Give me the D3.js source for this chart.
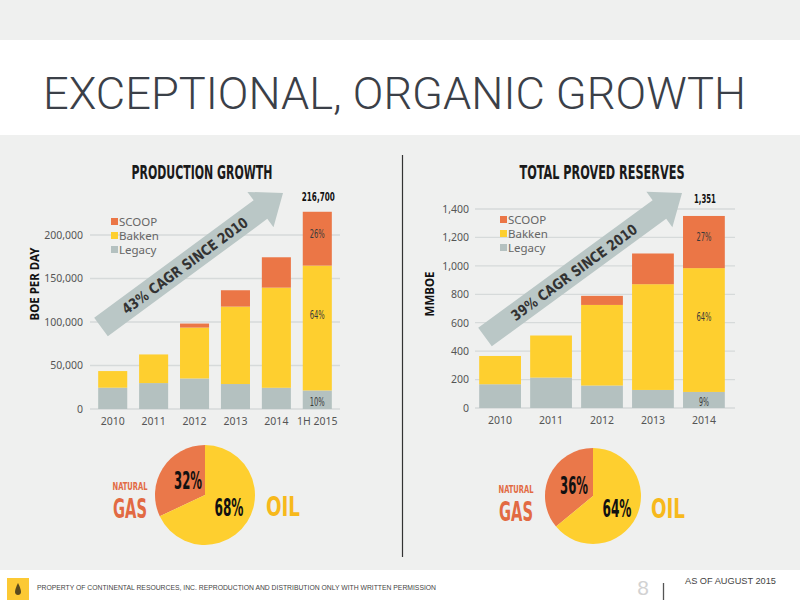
<!DOCTYPE html>
<html><head><meta charset="utf-8">
<script src="https://cdn.jsdelivr.net/npm/d3@7/dist/d3.min.js"></script>
<style>
html,body{margin:0;padding:0;background:#fff;}
svg{display:block;}
</style></head>
<body>
<svg id="c" width="800" height="600"></svg>
<script>
// ---- data ----
const prodYears = ["2010","2011","2012","2013","2014","1H 2015"];
const prodLegacy = [24500, 29800, 35100, 28700, 24400, 21300];
const prodBakken = [19100, 32900, 58500, 89000, 115100, 143500];
const prodScoop  = [0, 0, 4600, 18800, 34900, 61900];
const prodTicks = [0, 50000, 100000, 150000, 200000];
const prodShares = ["10%", "64%", "26%"];
const prodTotalLabel = "216,700";

const resYears = ["2010","2011","2012","2013","2014"];
const resLegacy = [167, 214, 158, 127, 113];
const resBakken = [199, 296, 567, 744, 871];
const resScoop  = [0, 0, 64, 216, 367];
const resTicks = [0, 200, 400, 600, 800, 1000, 1200, 1400];
const resShares = ["9%", "64%", "27%"];
const resTotalLabel = "1,351";

const seriesNames = ["Legacy", "Bakken", "SCOOP"];
const prodMix = [{k:"gas", v:32}, {k:"oil", v:68}];
const resMix  = [{k:"gas", v:36}, {k:"oil", v:64}];

// ---- styles ----
const C = {legacy:"#b4c1c0", bakken:"#fecf2f", scoop:"#eb7646", arrow:"#bac7c6",
           bg:"#eff0ef", grid:"#d6dada", gas:"#e26a43", oil:"#f7b91c", pieGas:"#ea784a", pieOil:"#fecf2f"};
const colors = [C.legacy, C.bakken, C.scoop];
const NARROW = "'Liberation Sans Narrow','DejaVu Sans Condensed','Arial Narrow',sans-serif";
const SANS = "'Noto Sans','Open Sans',sans-serif";

const svg = d3.select("#c");

// background bands
svg.append("rect").attr("x",0).attr("y",0).attr("width",800).attr("height",600).attr("fill","#fff");
svg.append("rect").attr("x",0).attr("y",0).attr("width",800).attr("height",40).attr("fill",C.bg);
svg.append("rect").attr("x",0).attr("y",135).attr("width",800).attr("height",435).attr("fill",C.bg);

// main title
svg.append("text").attr("x",43).attr("y",109)
  .attr("font-family","Roboto, sans-serif").attr("font-weight",300)
  .attr("font-size",44).attr("fill","#3b4048")
  .attr("textLength",703).attr("lengthAdjust","spacingAndGlyphs")
  .text("EXCEPTIONAL, ORGANIC GROWTH");

// divider
svg.append("line").attr("x1",402.5).attr("x2",402.5).attr("y1",155).attr("y2",557)
  .attr("stroke","#333").attr("stroke-width",1.2);

function stackedChart(cfg){
  const g = svg.append("g");
  const x = d3.scaleBand().domain(cfg.years).range(cfg.xr).paddingInner(cfg.pin).paddingOuter(0.2);
  const y = d3.scaleLinear().domain(cfg.yd).range(cfg.yr);
  // grid
  g.selectAll(".grid").data(cfg.ticks).join("line")
    .attr("x1",cfg.gx[0]).attr("x2",cfg.gx[1])
    .attr("y1",d=>y(d)).attr("y2",d=>y(d))
    .attr("stroke",C.grid).attr("stroke-width",1.3);
  // y axis labels
  const ax = g.append("g").attr("transform",`translate(${cfg.labelX},0)`)
    .call(d3.axisLeft(y).tickValues(cfg.ticks).tickSize(0).tickPadding(0).tickFormat(d3.format(",")));
  ax.select(".domain").remove();
  ax.selectAll("text").attr("font-family",SANS).attr("font-size",10.5).attr("fill","#555");
  // x axis
  const xa = g.append("g").attr("transform",`translate(0,${cfg.yr[0]})`)
    .call(d3.axisBottom(x).tickSize(0).tickPadding(9));
  xa.select(".domain").remove();
  xa.selectAll("text").attr("font-family",SANS).attr("font-size",10.5).attr("fill","#555");

  // arrow
  const a = cfg.arrow;
  const dx = a.x2-a.x1, dy = a.y2-a.y1, L = Math.hypot(dx,dy);
  const ang = Math.atan2(dy,dx)*180/Math.PI;
  const sw = 11.5, hw = 22, hl = 28;
  const ag = g.append("g").attr("transform",`translate(${a.x1},${a.y1}) rotate(${ang})`);
  ag.append("path").attr("fill",C.arrow)
    .attr("d",`M0,${-sw} L${L-hl},${-sw} L${L-hl},${-hw} L${L},0 L${L-hl},${hw} L${L-hl},${sw} L0,${sw} Z`);
  ag.append("text").attr("x",a.tx).attr("y",5.5).attr("text-anchor","middle")
    .attr("font-family","'DejaVu Sans',sans-serif").attr("font-weight","bold").attr("font-size",14.5)
    .attr("fill","#333").attr("textLength",a.tl).attr("lengthAdjust","spacingAndGlyphs")
    .text(a.text);

  // stacked bars
  const rows = cfg.years.map((yr,i)=>({year:yr, Legacy:cfg.s[0][i], Bakken:cfg.s[1][i], SCOOP:cfg.s[2][i]}));
  const stack = d3.stack().keys(seriesNames)(rows);
  g.selectAll(".ser").data(stack).join("g").attr("fill",(d,i)=>colors[i])
    .selectAll("rect").data(d=>d.filter(p=>p[1]-p[0]>0)).join("rect")
    .attr("x",d=>x(d.data.year)).attr("width",x.bandwidth())
    .attr("y",d=>y(d[1])).attr("height",d=>y(d[0])-y(d[1]));

  // share labels on last bar
  const last = cfg.years.length-1;
  const offs = [1, -14, -6];
  stack.forEach((ser,i)=>{
    const p = ser[last];
    const s = cfg.shares[i];
    g.append("text").attr("x",x(cfg.years[last])+x.bandwidth()/2)
      .attr("y",(y(p[0])+y(p[1]))/2 + offs[i] + 5)
      .attr("text-anchor","middle").attr("font-family",NARROW).attr("font-size",12)
      .attr("fill","#3a3a3a").attr("textLength",s.length*5).attr("lengthAdjust","spacingAndGlyphs")
      .text(s);
  });
  // total
  g.append("text").attr("x",x(cfg.years[last])+x.bandwidth()/2+1).attr("y",cfg.totalY)
    .attr("text-anchor","middle").attr("font-family",NARROW).attr("font-weight","bold")
    .attr("font-size",13).attr("fill","#111")
    .attr("textLength",cfg.totalW).attr("lengthAdjust","spacingAndGlyphs").text(cfg.total);

  // title
  g.append("text").attr("x",cfg.titleX).attr("y",179).attr("text-anchor","middle")
    .attr("font-family",NARROW).attr("font-weight","bold").attr("font-size",19).attr("fill","#1a1a1a")
    .attr("textLength",cfg.titleW).attr("lengthAdjust","spacingAndGlyphs").text(cfg.title);
  // y title
  g.append("text").attr("transform",`translate(${cfg.ytX},${cfg.ytY}) rotate(-90)`)
    .attr("text-anchor","middle").attr("font-family",SANS).attr("font-weight","bold")
    .attr("font-size",11.5).attr("fill","#111").text(cfg.ytitle);

  // legend
  const lg = g.append("g").attr("transform",`translate(${cfg.leg[0]},${cfg.leg[1]})`);
  ["SCOOP","Bakken","Legacy"].forEach((n,i)=>{
    lg.append("rect").attr("x",0).attr("y",i*14-4).attr("width",7).attr("height",7)
      .attr("fill",colors[seriesNames.indexOf(n)]);
    lg.append("text").attr("x",8).attr("y",i*14+4).attr("font-family",SANS)
      .attr("font-size",11.5).attr("fill","#666").text(n);
  });
}

stackedChart({years:prodYears, s:[prodLegacy,prodBakken,prodScoop], ticks:prodTicks,
  xr:[90,340], pin:0.29, yd:[0,200000], yr:[409,235], gx:[90,340], labelX:83,
  shares:prodShares, total:prodTotalLabel, totalY:201, totalW:33, title:"PRODUCTION GROWTH", titleX:202, titleW:141,
  ytitle:"BOE PER DAY", ytX:39, ytY:284, leg:[111,222],
  arrow:{x1:101,y1:327,x2:283,y2:193,tx:104,tl:152,text:"43% CAGR SINCE 2010"}});

stackedChart({years:resYears, s:[resLegacy,resBakken,resScoop], ticks:resTicks,
  xr:[469,735], pin:0.18, yd:[0,1400], yr:[408,209], gx:[475,735], labelX:469,
  shares:resShares, total:resTotalLabel, totalY:203, totalW:22, title:"TOTAL PROVED RESERVES", titleX:602, titleW:165,
  ytitle:"MMBOE", ytX:434, ytY:294, leg:[500,220],
  arrow:{x1:485,y1:337,x2:682,y2:193,tx:110,tl:152,text:"39% CAGR SINCE 2010"}});

// pies
function pie(cfg){
  const g = svg.append("g").attr("transform",`translate(${cfg.cx},${cfg.cy})`);
  const arcs = d3.pie().value(d=>d.v).sort(null).startAngle(0).endAngle(-2*Math.PI)(cfg.data);
  const arc = d3.arc().innerRadius(0).outerRadius(cfg.r);
  g.selectAll("path").data(arcs).join("path").attr("d",arc)
    .attr("fill",d=>d.data.k==="gas"?C.pieGas:C.pieOil);
  const t = (x,y,s,size,fill,w)=>{
    const e = g.append("text").attr("x",x).attr("y",y).attr("text-anchor","middle")
      .attr("font-family",NARROW).attr("font-weight","bold").attr("font-size",size).attr("fill",fill)
      .text(s);
    if(w) e.attr("textLength",w).attr("lengthAdjust","spacingAndGlyphs");
  };
  t(cfg.gl[0], cfg.gl[1], cfg.data[0].v+"%", 24, "#111", 28);
  t(cfg.ol[0], cfg.ol[1], cfg.data[1].v+"%", 24, "#111", 29);
  t(cfg.nat[0], cfg.nat[1], "NATURAL", 11, C.gas, 35);
  t(cfg.nat[0], cfg.nat[1]+28, "GAS", 26, C.gas, 34);
  t(cfg.oil[0], cfg.oil[1], "OIL", 27, C.oil, 34);
}
pie({cx:205, cy:495, r:50, data:prodMix, gl:[-17,-6], ol:[24,21], nat:[-75,-5], oil:[78,21]});
pie({cx:593, cy:496, r:48, data:resMix, gl:[-19,-2], ol:[24,21], nat:[-77,-3], oil:[75,22]});

// footer
svg.append("rect").attr("x",7).attr("y",578).attr("width",22).attr("height",22).attr("fill","#fcc934");
svg.append("path").attr("d","M18,583 C20,587 21,590 21,592 C21,594 19.5,595 18,595 C16.5,595 15,594 15,592 C15,590 16,587 18,583 Z")
  .attr("fill","#5a4a1e");
svg.append("text").attr("x",37).attr("y",590).attr("font-family","'Liberation Sans',Arial,sans-serif")
  .attr("font-size",7.2).attr("fill","#444")
  .attr("textLength",399).attr("lengthAdjust","spacingAndGlyphs")
  .text("PROPERTY OF CONTINENTAL RESOURCES, INC. REPRODUCTION AND DISTRIBUTION ONLY WITH WRITTEN PERMISSION");
svg.append("text").attr("x",643).attr("y",595).attr("text-anchor","middle")
  .attr("font-family","'Liberation Sans',Arial,sans-serif").attr("font-size",21).attr("fill","#d2d2d2").text("8");
svg.append("line").attr("x1",663.5).attr("x2",663.5).attr("y1",583).attr("y2",600).attr("stroke","#555").attr("stroke-width",1.3);
svg.append("text").attr("x",685).attr("y",584).attr("font-family","'Liberation Sans',Arial,sans-serif")
  .attr("font-size",9.5).attr("fill","#444").attr("textLength",91).attr("lengthAdjust","spacingAndGlyphs")
  .text("AS OF AUGUST 2015");
</script>
</body></html>
